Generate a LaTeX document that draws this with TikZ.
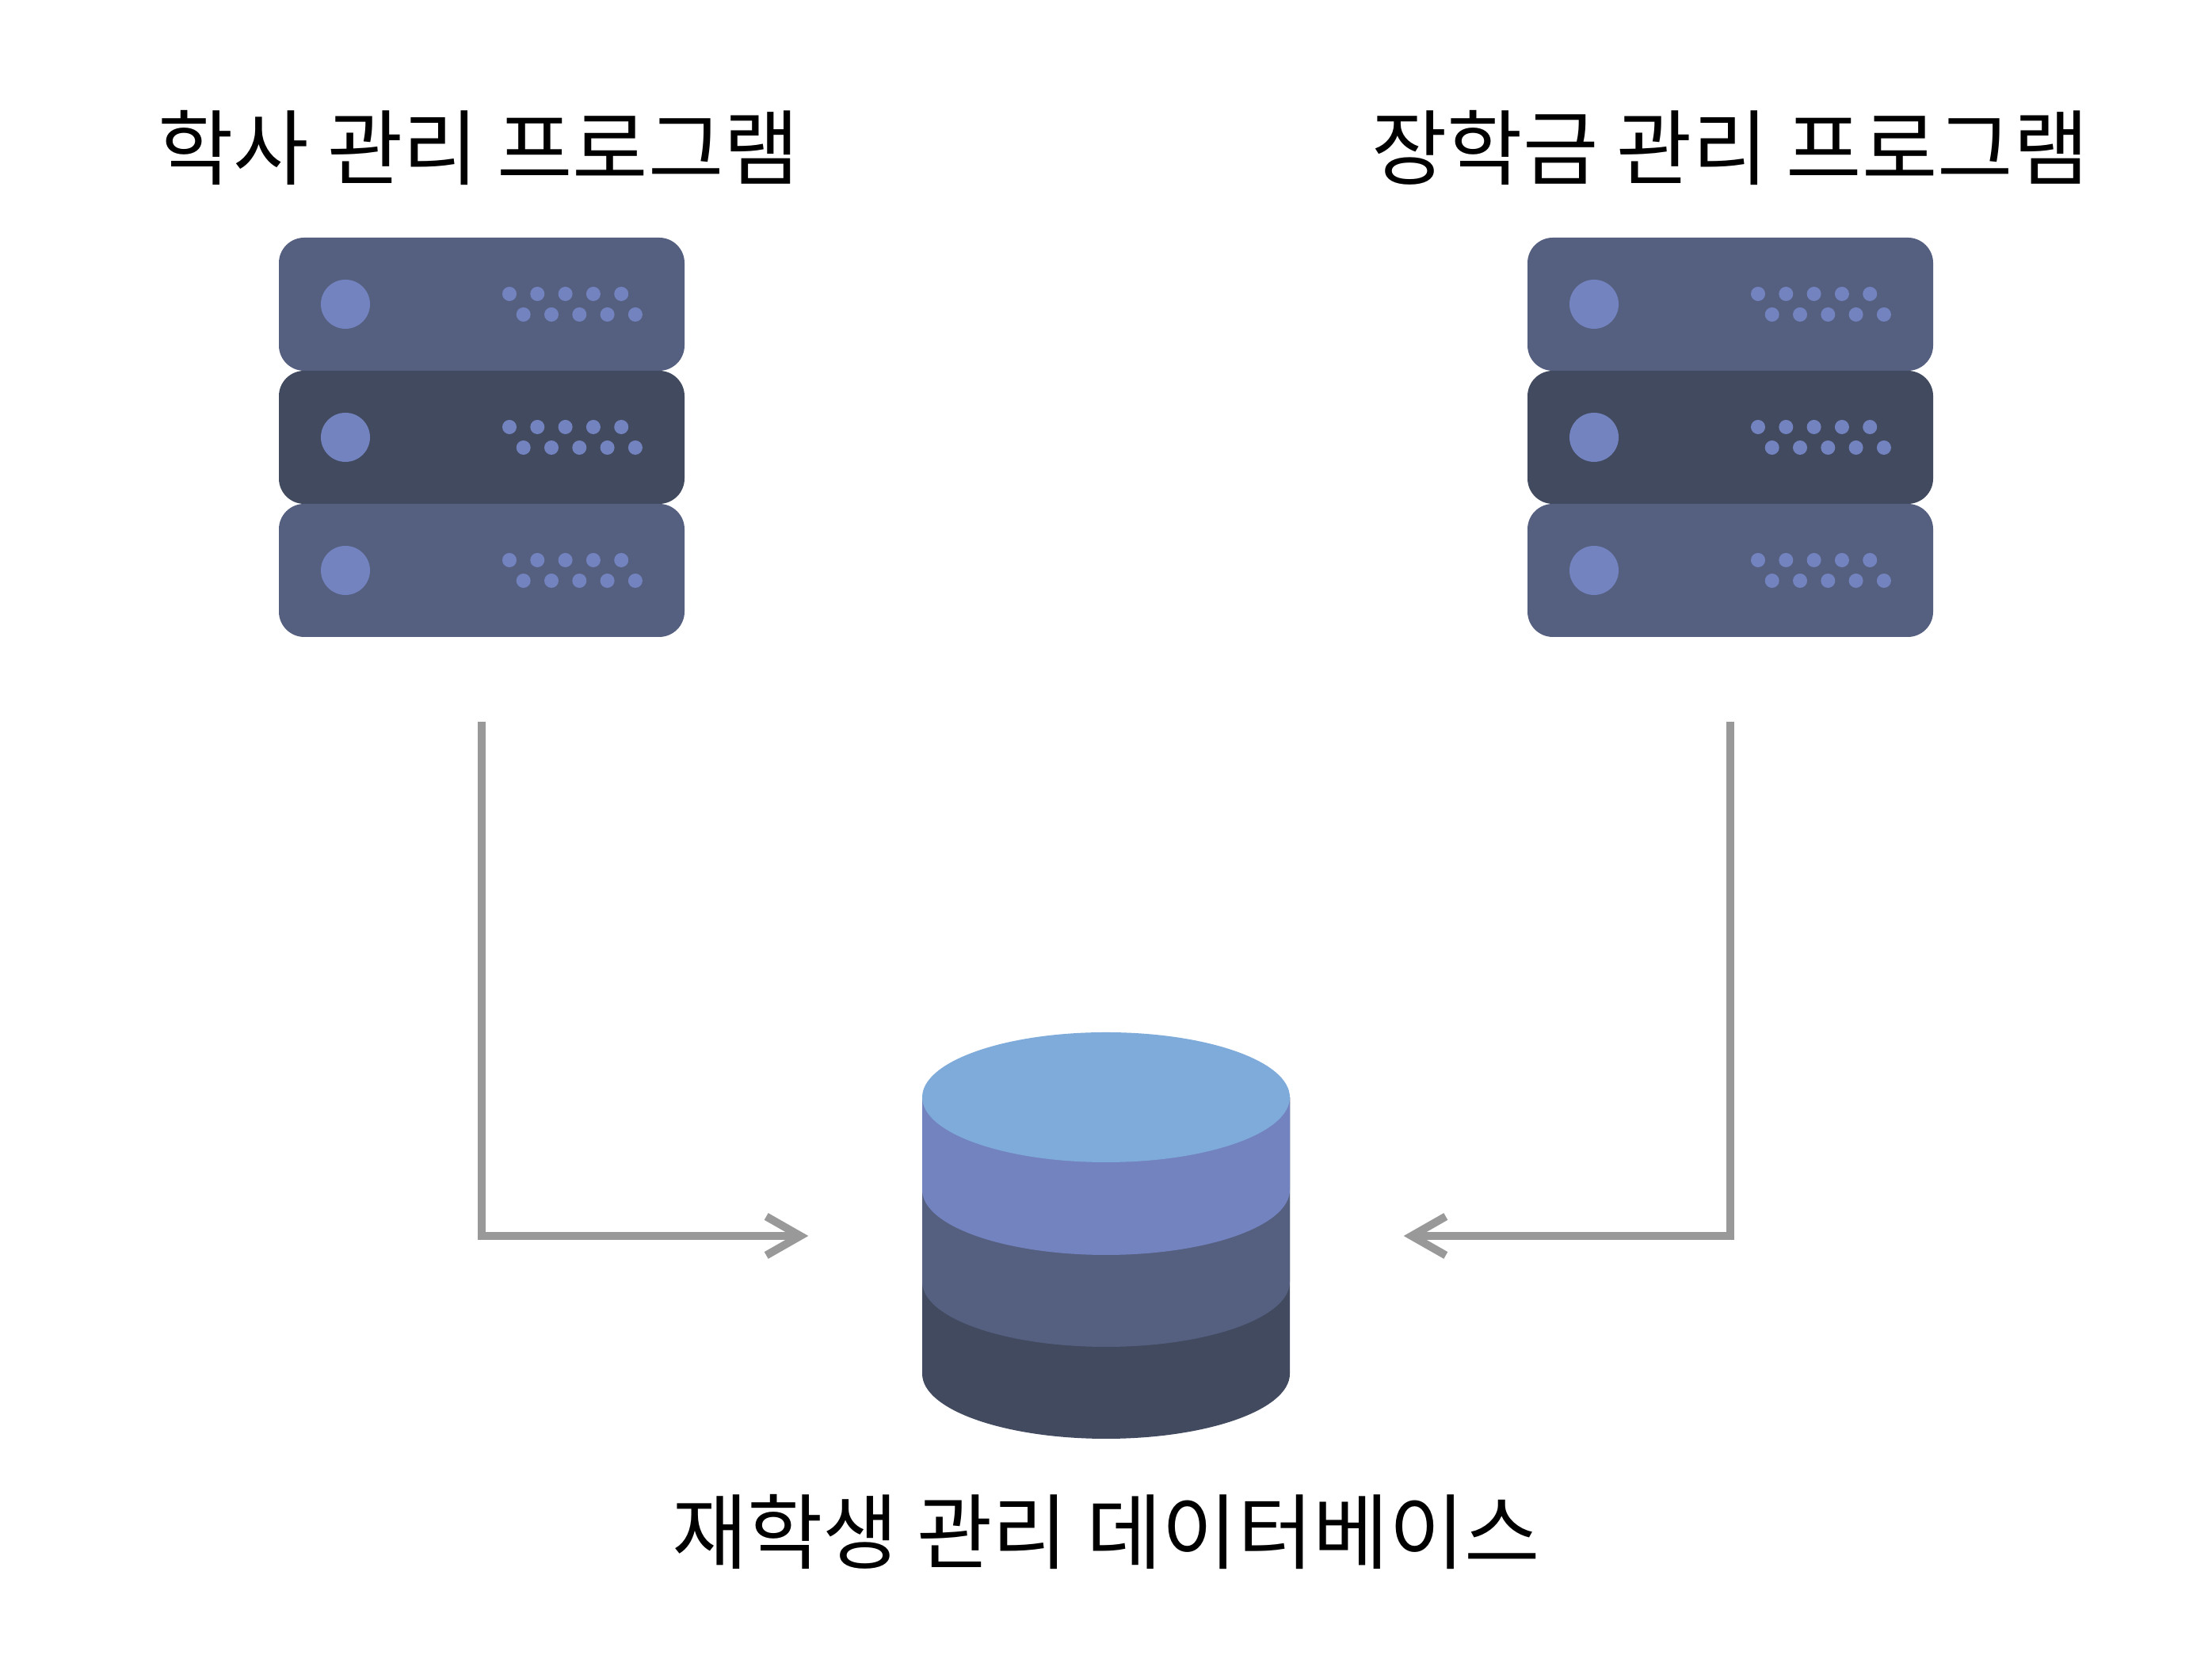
\documentclass[tikz,border=0pt]{standalone}
\usepackage{fontspec}
\newfontfamily\krfont{Noto Sans CJK KR}
\usetikzlibrary{arrows.meta}
\definecolor{rackblue}{HTML}{556080}
\definecolor{rackdark}{HTML}{424A60}
\definecolor{ledblue}{HTML}{7383BF}
\definecolor{dbtop}{HTML}{7FABDA}
\definecolor{flowgray}{HTML}{999999}
\tikzset{
rackunit/.style={minimum width=5.12cm,minimum height=1.68cm,inner sep=0pt,rounded corners=0.32cm},
dbbody/.style={minimum width=4.64cm,minimum height=5.12cm,inner sep=0pt},
flow/.style={draw=flowgray,line width=1mm,-{Straight Barb[length=4.3mm,width=4.9mm]}},
title/.style={font=\krfont\fontsize{29.5}{35}\selectfont,inner sep=0pt}
}
\begin{document}
\begin{tikzpicture}
\useasboundingbox (0,0) rectangle (27.92,20.94);

\foreach \rn/\rx in {a/6.08,b/21.84}
{
\foreach \k/\ry/\col in {1/17.10/rackblue,2/15.42/rackdark,3/13.74/rackblue}
{
\node[rackunit,fill=\col] (\rn\k) at (\rx,\ry) {};
\fill[ledblue] (\rx-1.72,\ry) circle (0.31);
\foreach \i in {0,...,4}
{
\fill[ledblue] (\rx+0.35+0.353*\i,\ry+0.13) circle (0.09);
\fill[ledblue] (\rx+0.527+0.353*\i,\ry-0.13) circle (0.09);
}
}
}

\node[title] (atitle) at (6.04,19.07) {학사 관리 프로그램};
\node[title] (btitle) at (21.84,19.07) {장학금 관리 프로그램};

% database, bottom layer first
\node[dbbody] (db) at (13.96,5.34) {};
\foreach \y/\col in {3.60/rackdark,4.76/rackblue,5.92/ledblue}
{
\fill[\col] (11.64,7.09) -- (11.64,\y) arc[start angle=180,end angle=360,x radius=2.32,y radius=0.82] -- (16.28,7.09) -- cycle;
}
\fill[dbtop] (13.96,7.09) ellipse (2.32 and 0.82);
\node[title] (dbtitle) at (13.96,1.60) {재학생 관리 데이터베이스};

\coordinate (astart) at ([yshift=-1.06cm]a3.south);
\coordinate (bstart) at ([yshift=-1.06cm]b3.south);
\coordinate (aend) at ([xshift=-1.43cm]db.west);
\coordinate (bend) at ([xshift=1.43cm]db.east);
\draw[flow] (astart) |- (aend);
\draw[flow] (bstart) |- (bend);
\end{tikzpicture}
\end{document}
